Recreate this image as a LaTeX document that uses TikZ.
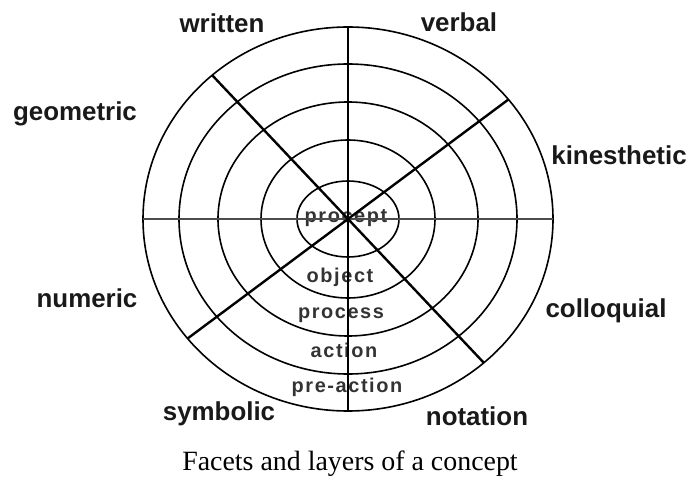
\documentclass[tikz,border=0pt]{standalone}
\usepackage{fontspec}
\setmainfont{Liberation Serif}
\setsansfont{Liberation Sans}
\newfontfamily\layerfont[LetterSpace=8]{Liberation Sans Bold}
\usetikzlibrary{positioning}

\begin{document}
\begin{tikzpicture}[x=1bp,y=-1bp,
ring/.style={draw=black,line width=1.6bp},
spoke/.style={draw=black,line width=2.4bp},
axis/.style={draw=black,line width=2bp},
haxis/.style={draw=black!70,line width=1.4bp},
facet/.style={font=\sffamily\bfseries\fontsize{26}{28}\selectfont,text=black!90,inner sep=0pt,anchor=base},
layer/.style={font=\layerfont\fontsize{20}{22}\selectfont,text=black!80,inner sep=0pt,anchor=base},
caption/.style={font=\fontsize{28}{30}\selectfont,inner sep=0pt,anchor=base}
]
\useasboundingbox (0,0) rectangle (688,499);
\coordinate (c) at (348,219);
% layers
\node[layer] (procept) at (346,223) {procept};
\node[layer] (object) at (340,282) {object};
\node[layer] (process) at (341,318) {process};
\node[layer] (action) at (344,357) {action};
\node[layer] (preaction) at (347,392) {pre-action};
% rings
\foreach \rx/\ry in {205/192,169/155,130/117,87/79,51/38}
  \draw[ring] (c) ellipse [x radius=\rx, y radius=\ry];
% spoke ends
\path (c) ++(228.5:205 and 192) coordinate (ul);
\path (c) ++(48.5:205 and 192) coordinate (lr);
\path (c) ++(321.5:205 and 192) coordinate (ur);
\path (c) ++(141.5:205 and 192) coordinate (ll);
\path (c) ++(270:205 and 192) coordinate (top);
\path (c) ++(90:205 and 192) coordinate (bot);
\path (c) ++(180:205 and 192) coordinate (lft);
\path (c) ++(0:205 and 192) coordinate (rgt);
\draw[haxis] (lft) -- (rgt);
\draw[axis] (top) -- (bot);
\draw[spoke] (ul) -- (lr);
\draw[spoke] (ur) -- (ll);
% facets
\node[facet] (written) at (222,33) {written};
\node[facet] (verbal) at (459,32) {verbal};
\node[facet] (geometric) at (75,121) {geometric};
\node[facet] (kinesthetic) at (619,165) {kinesthetic};
\node[facet] (numeric) at (87,307) {numeric};
\node[facet] (colloquial) at (606,317) {colloquial};
\node[facet] (symbolic) at (219,420) {symbolic};
\node[facet] (notation) at (477,425) {notation};
\node[caption] (title) at (350,470) {Facets and layers of a concept};
\end{tikzpicture}
\end{document}
